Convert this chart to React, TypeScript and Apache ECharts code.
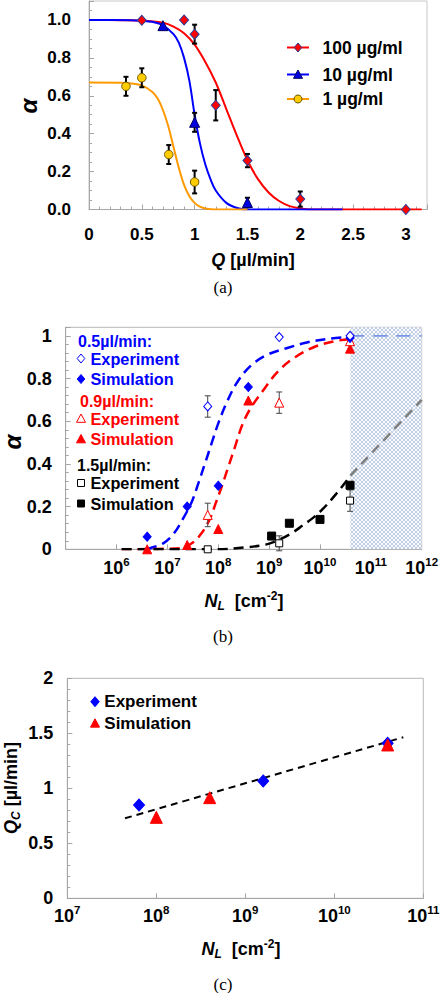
import React, { useEffect, useRef } from 'react';
import * as echarts from 'echarts';

const FONT = '"Liberation Sans", Arial, Helvetica, sans-serif';
const SERIF = '"Liberation Serif", "Times New Roman", Times, serif';

// ================= Panel (a): alpha vs Q =================
const legendA = ['100 µg/ml', '10 µg/ml', '1 µg/ml'];
const pts100 = [[0.5, 0.998], [0.9, 1.0], [1.0, 0.925], [1.2, 0.55], [1.5, 0.258], [2.0, 0.055], [3.0, 0.0]];
const err100 = [[1.0, 0.925, 0.05], [1.2, 0.55, 0.08], [1.5, 0.258, 0.035], [2.0, 0.055, 0.04]];
const pts10 = [[0.7, 0.97], [1.0, 0.46], [1.5, 0.037]];
const err10 = [[1.0, 0.46, 0.05], [1.5, 0.037, 0.025]];
const pts1 = [[0.35, 0.65], [0.5, 0.695], [0.755, 0.29], [1.0, 0.145]];
const err1 = [[0.35, 0.65, 0.05], [0.5, 0.695, 0.05], [0.755, 0.29, 0.05], [1.0, 0.145, 0.06]];
const fit100 = [[0, 1], [0.3, 0.999], [0.5, 0.997], [0.7, 0.985], [0.8, 0.965], [0.9, 0.93], [1.0, 0.87], [1.1, 0.78], [1.2, 0.67], [1.3, 0.53], [1.4, 0.39], [1.5, 0.26], [1.6, 0.16], [1.7, 0.09], [1.8, 0.045], [1.9, 0.018], [2.0, 0.006], [2.1, 0], [3.15, 0]];
const fit10 = [[0, 1], [0.4, 0.999], [0.5, 0.996], [0.6, 0.99], [0.7, 0.972], [0.8, 0.925], [0.85, 0.88], [0.9, 0.8], [0.95, 0.68], [1.0, 0.5], [1.05, 0.35], [1.1, 0.24], [1.15, 0.16], [1.2, 0.1], [1.3, 0.035], [1.4, 0.008], [1.5, 0], [2.4, 0]];
const fit1 = [[0, 0.67], [0.3, 0.669], [0.4, 0.665], [0.5, 0.655], [0.6, 0.62], [0.65, 0.585], [0.7, 0.525], [0.75, 0.44], [0.8, 0.33], [0.85, 0.22], [0.9, 0.13], [0.95, 0.07], [1.0, 0.035], [1.05, 0.015], [1.1, 0.005], [1.2, 0], [1.5, 0]];

// ================= Panel (b): alpha vs N_L =================
const headersB = ['0.5µl/min:', '0.9µl/min:', '1.5µl/min:'];
const entryB = ['Experiment', 'Simulation'];
const expB05 = [[6.2e7, 0.669], [1.58e9, 0.994], [3.9e10, 1.0]];
const simB05 = [[4.0e6, 0.059], [2.45e7, 0.2], [1e8, 0.298], [3.9e8, 0.76], [3.9e10, 0.99]];
const expB09 = [[6.2e7, 0.161], [1.58e9, 0.687], [3.9e10, 0.975]];
const simB09 = [[4.0e6, 0.0], [2.45e7, 0.02], [1e8, 0.095], [3.9e8, 0.697], [3.9e10, 0.94]];
const expB15 = [[6.2e7, 0.0], [1.58e9, 0.028], [3.9e10, 0.228]];
const simB15 = [[1.12e9, 0.062], [2.5e9, 0.122], [1e10, 0.14], [3.9e10, 0.3]];
const errB = [[6.2e7, 0.669, 0.05], [6.2e7, 0.161, 0.055], [1.58e9, 0.687, 0.05], [1.58e9, 0.028, 0.035], [3.9e10, 0.228, 0.05]];
const fitB05 = [[3.98e6, 0], [4.57e6, 0.005], [8.3e6, 0.028], [1.32e7, 0.072], [2.04e7, 0.145], [3.02e7, 0.223], [4.07e7, 0.31], [5.5e7, 0.403], [7.41e7, 0.497], [1e8, 0.59], [1.48e8, 0.69], [2.29e8, 0.778], [4.17e8, 0.856], [8.91e8, 0.91], [2.19e9, 0.942], [5.5e9, 0.969], [1.35e10, 0.985], [3.95e10, 0.995]];
const fitB09 = [[1.26e6, 0], [1.78e7, 0.005], [3.02e7, 0.028], [4.68e7, 0.075], [6.92e7, 0.145], [8.91e7, 0.216], [1.17e8, 0.294], [1.58e8, 0.387], [2.14e8, 0.481], [2.88e8, 0.575], [4.17e8, 0.655], [7.41e8, 0.74], [1.45e9, 0.83], [3.24e9, 0.9], [8.13e9, 0.95], [1.95e10, 0.975], [3.95e10, 0.985]];
const fitB15 = [[1.26e6, 0], [1e8, 0], [3.16e8, 0.008], [8.51e8, 0.022], [1.58e9, 0.045], [2.75e9, 0.075], [4.47e9, 0.11], [7.08e9, 0.145], [1.15e10, 0.19], [2.09e10, 0.26], [3.31e10, 0.32], [3.95e10, 0.345]];
const extB05 = [[3.95e10, 1.0], [1e12, 1.0]];
const extB15 = [[3.95e10, 0.345], [1e12, 0.7]];
const shadeB = [3.95e10, 1e12];

// ================= Panel (c): Q_C vs N_L =================
const legendC = ['Experiment', 'Simulation'];
const expC = [[6.4e7, 0.848], [1.59e9, 1.067], [3.98e10, 1.409]];
const simC = [[1e8, 0.736], [3.98e8, 0.915], [3.98e10, 1.394]];
const fitC = [[4.45e7, 0.727], [5.96e10, 1.464]];

// ========================================================
const BLUE = '#0000ff';
const RED = '#ff0000';
const ORANGE = '#ff9900';
const AXIS = '#a6a6a6';

const errRows = (rows: number[][]) => rows.map(([x, c, e]) => [x, c - e, c + e]);

function errSeries(rows: number[][], idx: number, color: string, width: number, cap: number) {
  return {
    type: 'custom',
    xAxisIndex: idx,
    yAxisIndex: idx,
    data: errRows(rows),
    z: 3,
    silent: true,
    encode: { x: 0, y: [1, 2] },
    renderItem: (_p: any, api: any) => {
      const x = api.value(0);
      const a = api.coord([x, api.value(1)]);
      const b = api.coord([x, api.value(2)]);
      const st = { stroke: color, lineWidth: width };
      return {
        type: 'group',
        children: [
          { type: 'line', shape: { x1: a[0], y1: a[1], x2: b[0], y2: b[1] }, style: st },
          { type: 'line', shape: { x1: a[0] - cap, y1: a[1], x2: a[0] + cap, y2: a[1] }, style: st },
          { type: 'line', shape: { x1: b[0] - cap, y1: b[1], x2: b[0] + cap, y2: b[1] }, style: st },
        ],
      };
    },
  };
}

const tickLbl = (size: number) => ({ color: '#000', fontWeight: 'bold', fontSize: size, fontFamily: FONT });

function axisBase(extra: any) {
  return {
    axisLine: { show: true, onZero: false, lineStyle: { color: AXIS, width: 1 } },
    axisTick: { show: true, inside: true, length: 5, lineStyle: { color: AXIS } },
    splitLine: { show: false },
    ...extra,
  };
}

const logRich = {
  b: { fontSize: 18, fontWeight: 'bold', fontFamily: FONT, color: '#000', lineHeight: 24 },
  s: { fontSize: 11.5, fontWeight: 'bold', fontFamily: FONT, color: '#000', lineHeight: 10, verticalAlign: 'top' },
};
const logFmt = (hideExp: number) => (v: number) => {
  const e = Math.round(Math.log10(v));
  return e === hideExp ? '' : `{b|10}{s|${e}}`;
};

const nameRich = {
  i: { fontSize: 18, fontWeight: 'bold', fontStyle: 'italic', fontFamily: FONT, fill: '#000', lineHeight: 22 },
  sub: { fontSize: 12, fontWeight: 'bold', fontStyle: 'italic', fontFamily: FONT, fill: '#000', lineHeight: 12, verticalAlign: 'bottom' },
  t: { fontSize: 18, fontWeight: 'bold', fontFamily: FONT, fill: '#000', lineHeight: 22 },
  sup: { fontSize: 12, fontWeight: 'bold', fontFamily: FONT, fill: '#000', lineHeight: 10, verticalAlign: 'top' },
};

function txt(x: number, y: number, text: string, opts: any = {}) {
  return {
    type: 'text', x, y, z: 100, rotation: opts.rotation || 0,
    style: {
      text,
      fontSize: opts.fontSize || 17,
      fontWeight: opts.fontWeight || 'bold',
      fontStyle: opts.fontStyle || 'normal',
      fontFamily: opts.fontFamily || FONT,
      fill: opts.fill || '#000',
      align: opts.align || 'left',
      verticalAlign: 'middle',
      lineHeight: opts.lineHeight,
      rich: opts.rich,
    },
  };
}

function mk(kind: string, cx: number, cy: number, r: number, fill: string, stroke: string) {
  const style = { fill, stroke, lineWidth: 1 };
  if (kind === 'diamond') return { type: 'polygon', z: 100, shape: { points: [[cx, cy - r], [cx + r * 0.85, cy], [cx, cy + r], [cx - r * 0.85, cy]] }, style };
  if (kind === 'triangle') return { type: 'polygon', z: 100, shape: { points: [[cx, cy - r], [cx + r, cy + r * 0.85], [cx - r, cy + r * 0.85]] }, style };
  if (kind === 'rect') return { type: 'rect', z: 100, shape: { x: cx - r, y: cy - r, width: 2 * r, height: 2 * r }, style };
  return { type: 'circle', z: 100, shape: { cx, cy, r }, style };
}

function makePattern() {
  const c = document.createElement('canvas');
  c.width = 4;
  c.height = 4;
  const ctx = c.getContext('2d')!;
  ctx.fillStyle = '#f8fafd';
  ctx.fillRect(0, 0, 4, 4);
  ctx.fillStyle = '#c3cfe2';
  for (let i = 0; i < 4; i++) {
    ctx.fillRect(i, i, 1, 1);
    ctx.fillRect(3 - i, i, 1, 1);
  }
  return c;
}

function buildOption() {
  const graphics: any[] = [];

  // ---- Panel (a) legend ----
  const rowsA = [47.5, 74.5, 99];
  const colA = [RED, BLUE, ORANGE];
  const kindA = ['diamond', 'triangle', 'circle'];
  const fillA = [RED, '#0000e0', '#ffcc00'];
  const strokeA = ['#2a3c9a', '#000060', '#6a5500'];
  legendA.forEach((name, i) => {
    const y = rowsA[i];
    graphics.push({ type: 'line', z: 100, shape: { x1: 287, y1: y, x2: 309, y2: y }, style: { stroke: colA[i], lineWidth: 2 } });
    graphics.push(mk(kindA[i], 298, y, kindA[i] === 'circle' ? 4 : 4.5, fillA[i], strokeA[i]));
    graphics.push(txt(322.5, y, name, { fontSize: 17.5 }));
  });
  // axis names / caption (a)
  graphics.push(txt(28.5, 106, 'α', { fontSize: 24, fontStyle: 'italic', align: 'center', rotation: Math.PI / 2, lineHeight: 18 }));
  graphics.push(txt(253, 260, '{i|Q}{t| [µl/min]}', { align: 'center', rich: nameRich }));
  graphics.push(txt(223, 287.5, '(a)', { fontFamily: SERIF, fontWeight: 'normal', fontSize: 17, align: 'center' }));

  // ---- Panel (b) legend ----
  const colB = [BLUE, RED, '#000'];
  const kindB = ['diamond', 'triangle', 'rect'];
  const rB = [4.5, 4.5, 3.5];
  const headY = [341, 401, 465.5];
  const headX = [78, 80, 77];
  headersB.forEach((h, g) => {
    graphics.push(txt(headX[g], headY[g], h, { fontSize: 16, fill: colB[g] }));
    entryB.forEach((e, j) => {
      const y = headY[g] + 17.5 + j * 20.5;
      graphics.push(mk(kindB[g], 81, y, rB[g], j === 0 ? '#fff' : colB[g], colB[g]));
      graphics.push(txt(90.5, y, e, { fontSize: 16.3, fill: colB[g] }));
    });
  });
  graphics.push(txt(12, 442, 'α', { fontSize: 24, fontStyle: 'italic', align: 'center', rotation: Math.PI / 2, lineHeight: 18 }));
  graphics.push(txt(244, 601, '{i|N}{sub|L}{t|  [cm}{sup|-2}{t|]}', { align: 'center', rich: nameRich }));
  graphics.push(txt(223, 636.7, '(b)', { fontFamily: SERIF, fontWeight: 'normal', fontSize: 17, align: 'center' }));

  // ---- Panel (c) legend ----
  const kindC = ['diamond', 'triangle'];
  const colC = [BLUE, RED];
  const rowsC = [701.7, 723.3];
  legendC.forEach((n, i) => {
    graphics.push(mk(kindC[i], 95, rowsC[i], i === 0 ? 5 : 4.5, colC[i], colC[i]));
    graphics.push(txt(104.3, rowsC[i], n, { fontSize: 17 }));
  });
  graphics.push(txt(10.5, 788, '{i|Q}{sub|C}{t| [µl/min]}', { align: 'center', rotation: Math.PI / 2, rich: nameRich }));
  graphics.push(txt(241, 949, '{i|N}{sub|L}{t|  [cm}{sup|-2}{t|]}', { align: 'center', rich: nameRich }));
  graphics.push(txt(223, 984, '(c)', { fontFamily: SERIF, fontWeight: 'normal', fontSize: 17, align: 'center' }));

  const dashLine = (data: number[][], idx: number, color: string, width: number, dash: number[], z = 2) => ({
    type: 'line', xAxisIndex: idx, yAxisIndex: idx, data, showSymbol: false, symbol: 'none',
    smooth: 0.35, z, silent: true,
    lineStyle: { color, width, type: dash },
  });
  const solidLine = (data: number[][], color: string) => ({
    type: 'line', xAxisIndex: 0, yAxisIndex: 0, data, showSymbol: false, symbol: 'none',
    smooth: 0.35, z: 2, silent: true,
    lineStyle: { color, width: 2 },
  });
  const scat = (data: number[][], idx: number, symbol: string, size: any, color: string, border: string, bw = 1, z = 5) => ({
    type: 'scatter', xAxisIndex: idx, yAxisIndex: idx, data, symbol, symbolSize: size, z, silent: true,
    itemStyle: { color, borderColor: border, borderWidth: bw, opacity: 1 },
  });

  return {
    animation: false,
    grid: [
      { left: 89, top: 1, width: 338, height: 208.5, show: true, borderColor: '#c8c8c8', borderWidth: 1 },
      { left: 65.7, top: 327.3, width: 356, height: 222, show: true, borderColor: '#b8b8b8', borderWidth: 1 },
      { left: 67.3, top: 678.3, width: 356, height: 220, show: true, borderColor: '#b8b8b8', borderWidth: 1 },
    ],
    xAxis: [
      axisBase({
        gridIndex: 0, type: 'value', min: 0, max: 3.2, interval: 0.5,
        minorTick: { show: true, splitNumber: 5, length: 3, lineStyle: { color: AXIS } },
        axisLabel: { ...tickLbl(17), margin: 16, formatter: (v: number) => (v > 3.01 ? '' : String(v)) },
      }),
      axisBase({
        gridIndex: 1, type: 'log', logBase: 10, min: 1e5, max: 1e12, splitNumber: 7,
        axisLabel: { margin: 7, formatter: logFmt(5), rich: logRich },
      }),
      axisBase({
        gridIndex: 2, type: 'log', logBase: 10, min: 1e7, max: 1e11, splitNumber: 4,
        axisLabel: { margin: 6, formatter: logFmt(-99), rich: logRich },
      }),
    ],
    yAxis: [
      axisBase({
        gridIndex: 0, type: 'value', min: 0, max: 1.1, interval: 0.2,
        minorTick: { show: true, splitNumber: 4, length: 3, lineStyle: { color: AXIS } },
        axisLabel: { ...tickLbl(17), margin: 18, formatter: (v: number) => (v > 1.01 ? '' : v.toFixed(1)) },
      }),
      axisBase({
        gridIndex: 1, type: 'value', min: 0, max: 1.04, interval: 0.2,
        minorTick: { show: true, splitNumber: 5, length: 3, lineStyle: { color: AXIS } },
        axisLabel: { ...tickLbl(18), margin: 14, formatter: (v: number) => (v > 1.01 ? '' : String(Math.round(v * 10) / 10)) },
      }),
      axisBase({
        gridIndex: 2, type: 'value', min: 0, max: 2, interval: 0.5,
        minorTick: { show: true, splitNumber: 5, length: 3, lineStyle: { color: AXIS } },
        axisLabel: { ...tickLbl(18), margin: 14 },
      }),
    ],
    graphic: { elements: graphics },
    series: [
      // (a)
      solidLine(fit100, RED),
      solidLine(fit10, BLUE),
      solidLine(fit1, ORANGE),
      errSeries([...err100, ...err10, ...err1], 0, '#000', 2, 2.5),
      scat(pts100, 0, 'diamond', [9, 10], RED, '#2a3c9a'),
      scat(pts10, 0, 'triangle', 10, '#0000e0', '#000060'),
      scat(pts1, 0, 'circle', 8.5, '#ffcc00', '#6a5500'),
      // (b)
      {
        ...dashLine(extB05, 1, '#7a96ea', 1.8, [14, 9], 1),
        markArea: {
          silent: true,
          itemStyle: { color: { image: makePattern(), repeat: 'repeat' } },
          data: [[{ xAxis: shadeB[0] }, { xAxis: shadeB[1] }]],
        },
      },
      dashLine(extB15, 1, '#808080', 2.5, [10, 6], 1),
      dashLine(fitB05, 1, BLUE, 2.5, [10, 6]),
      dashLine(fitB09, 1, RED, 2.5, [10, 6]),
      dashLine(fitB15, 1, '#000', 2.5, [10, 6]),
      errSeries(errB, 1, '#444', 1, 3),
      scat(simB15, 1, 'rect', 8, '#000', '#000'),
      scat(expB15, 1, 'rect', 7, '#fff', '#000'),
      scat(simB09, 1, 'triangle', 9, RED, RED),
      scat(expB09, 1, 'triangle', 9, '#fff', RED),
      scat(simB05, 1, 'diamond', [8, 9], BLUE, BLUE),
      scat(expB05, 1, 'diamond', [8, 9], '#fff', BLUE),
      // (c)
      dashLine(fitC, 2, '#000', 2, [7, 5]),
      scat(expC, 2, 'diamond', [11, 12], BLUE, BLUE),
      scat(simC, 2, 'triangle', 12, RED, RED),
    ],
  };
}

export default function App() {
  const ref = useRef<HTMLDivElement>(null);
  useEffect(() => {
    if (!ref.current) return;
    const chart = echarts.init(ref.current, null, { renderer: 'svg' });
    chart.setOption(buildOption() as any);
    return () => chart.dispose();
  }, []);
  return <div ref={ref} style={{ position: 'absolute', left: 0, top: 0, width: 444, height: 993 }} />;
}
